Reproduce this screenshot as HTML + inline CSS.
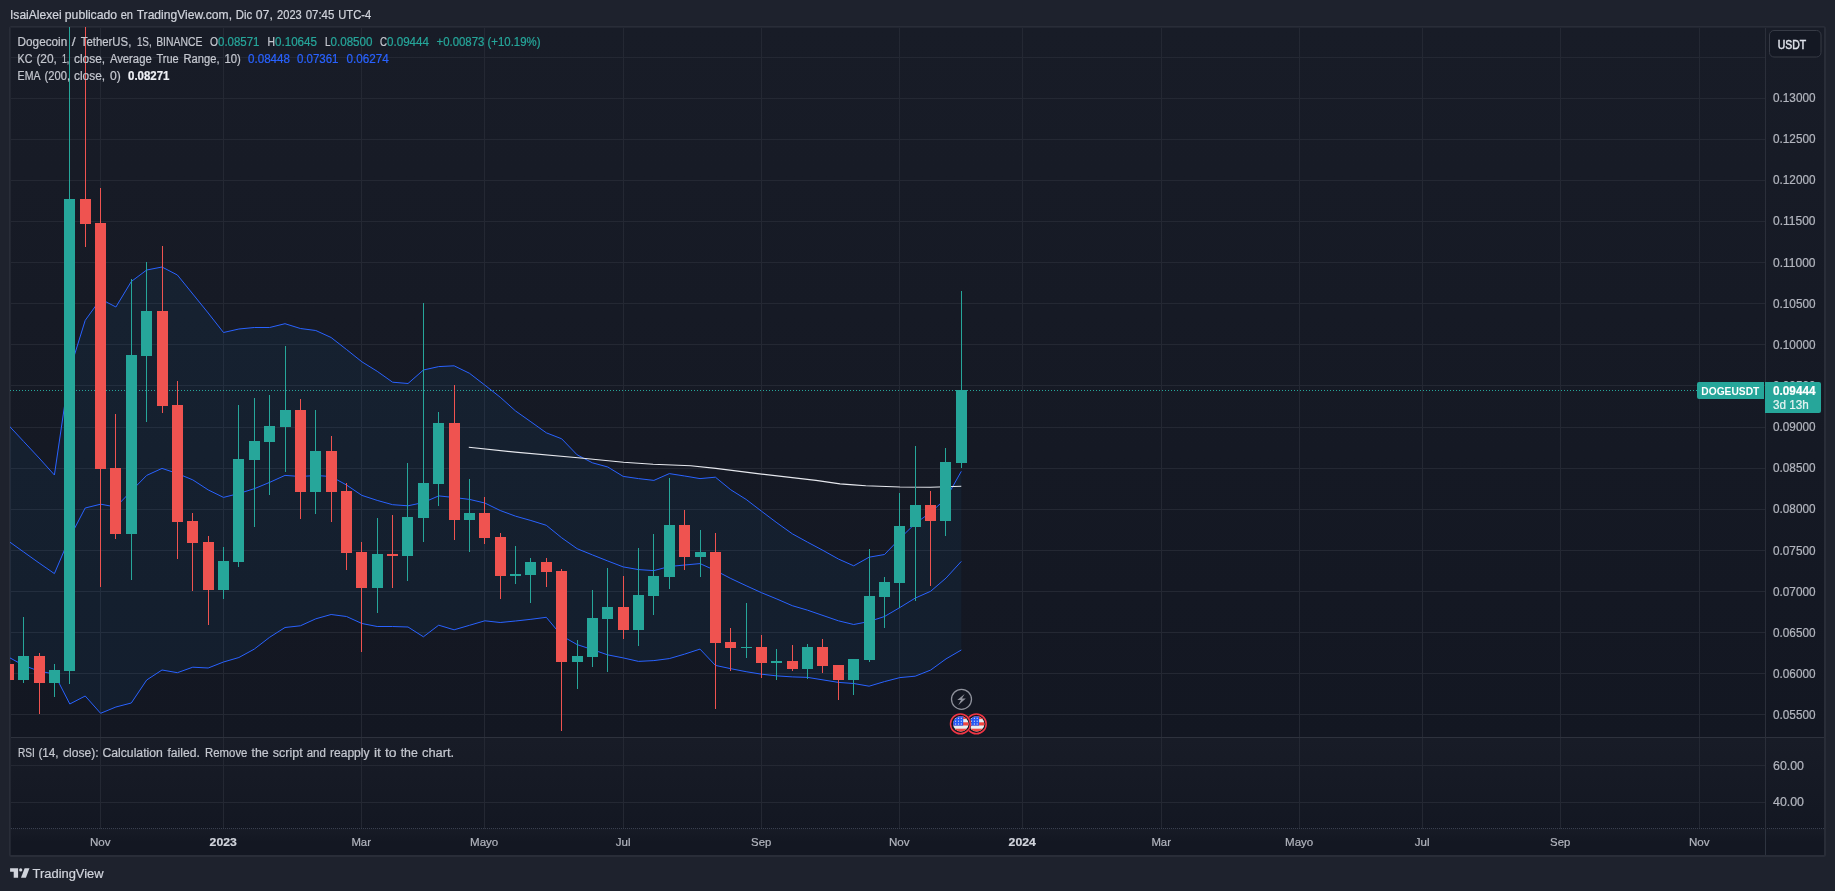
<!DOCTYPE html>
<html><head><meta charset="utf-8"><title>DOGEUSDT</title>
<style>
html,body{margin:0;padding:0;background:#1e222d;}
body{width:1835px;height:891px;overflow:hidden;font-family:"Liberation Sans",sans-serif;}
svg{display:block;will-change:transform}
text{font-family:"Liberation Sans",sans-serif;}
</style></head><body>
<svg width="1835" height="891" viewBox="0 0 1835 891">
<defs>
<linearGradient id="bg" x1="0" y1="0" x2="0" y2="1"><stop offset="0" stop-color="#181c27"/><stop offset="1" stop-color="#131722"/></linearGradient>
<linearGradient id="bg2" x1="0" y1="0" x2="0" y2="1"><stop offset="0" stop-color="#171b26"/><stop offset="0.5" stop-color="#131722"/><stop offset="1" stop-color="#131722"/></linearGradient>
<clipPath id="pane"><rect x="10" y="27" width="1756" height="711"/></clipPath>
<clipPath id="f1"><circle cx="0" cy="0" r="7.7"/></clipPath>
</defs>
<rect x="0" y="0" width="1835" height="891" fill="#1e222d"/>
<rect x="9" y="26" width="1817" height="831" rx="2.5" fill="#292d38"/>
<rect x="10" y="27" width="1814" height="828" fill="#222631"/>
<rect x="11" y="28" width="1813" height="710" fill="url(#bg)"/>
<rect x="11" y="738" width="1813" height="91" fill="url(#bg)"/>
<rect x="11" y="829" width="1813" height="26" fill="url(#bg2)"/>

<g shape-rendering="crispEdges" stroke="#242833" stroke-width="1">
<line x1="100.5" y1="28" x2="100.5" y2="829"/>
<line x1="223.5" y1="28" x2="223.5" y2="829"/>
<line x1="361.5" y1="28" x2="361.5" y2="829"/>
<line x1="484.5" y1="28" x2="484.5" y2="829"/>
<line x1="623.5" y1="28" x2="623.5" y2="829"/>
<line x1="761.5" y1="28" x2="761.5" y2="829"/>
<line x1="899.5" y1="28" x2="899.5" y2="829"/>
<line x1="1022.5" y1="28" x2="1022.5" y2="829"/>
<line x1="1161.5" y1="28" x2="1161.5" y2="829"/>
<line x1="1299.5" y1="28" x2="1299.5" y2="829"/>
<line x1="1422.5" y1="28" x2="1422.5" y2="829"/>
<line x1="1560.5" y1="28" x2="1560.5" y2="829"/>
<line x1="1699.5" y1="28" x2="1699.5" y2="829"/>
<line x1="11" y1="57.5" x2="1766" y2="57.5"/>
<line x1="11" y1="98.5" x2="1766" y2="98.5"/>
<line x1="11" y1="139.5" x2="1766" y2="139.5"/>
<line x1="11" y1="180.5" x2="1766" y2="180.5"/>
<line x1="11" y1="221.5" x2="1766" y2="221.5"/>
<line x1="11" y1="262.5" x2="1766" y2="262.5"/>
<line x1="11" y1="303.5" x2="1766" y2="303.5"/>
<line x1="11" y1="344.5" x2="1766" y2="344.5"/>
<line x1="11" y1="385.5" x2="1766" y2="385.5"/>
<line x1="11" y1="427.5" x2="1766" y2="427.5"/>
<line x1="11" y1="468.5" x2="1766" y2="468.5"/>
<line x1="11" y1="509.5" x2="1766" y2="509.5"/>
<line x1="11" y1="550.5" x2="1766" y2="550.5"/>
<line x1="11" y1="591.5" x2="1766" y2="591.5"/>
<line x1="11" y1="632.5" x2="1766" y2="632.5"/>
<line x1="11" y1="673.5" x2="1766" y2="673.5"/>
<line x1="11" y1="714.5" x2="1766" y2="714.5"/>
<line x1="11" y1="765.5" x2="1766" y2="765.5"/>
<line x1="11" y1="802.5" x2="1766" y2="802.5"/>
</g>
<g clip-path="url(#pane)">
<polygon fill="#2196f3" fill-opacity="0.06" points="8.3,425.0 23.7,441.5 39.1,458.0 54.4,475.0 69.8,370.0 85.2,320.4 100.6,299.0 115.9,307.0 131.3,281.5 146.7,270.0 162.0,267.0 177.4,275.0 192.8,294.0 208.2,313.0 223.5,332.5 238.9,329.0 254.3,327.5 269.6,327.5 285.0,323.7 300.4,328.5 315.8,330.5 331.1,337.5 346.5,349.5 361.9,361.8 377.2,371.3 392.6,382.2 408.0,383.5 423.4,370.0 438.7,366.6 454.1,365.8 469.5,373.3 484.8,385.1 500.2,397.2 515.6,411.0 530.9,421.8 546.3,432.8 561.7,438.8 577.1,454.8 592.4,462.8 607.8,467.0 623.2,476.4 638.5,478.6 653.9,480.4 669.3,473.6 684.7,476.0 700.0,478.6 715.4,477.2 730.8,489.8 746.1,499.4 761.5,511.2 776.9,522.8 792.3,533.8 807.6,542.2 823.0,550.4 838.4,559.0 853.7,565.8 869.1,557.2 884.5,554.5 899.9,538.5 915.2,523.5 930.6,512.5 946.0,498.5 961.3,471.3 961.3,650.0 946.0,658.9 930.6,670.1 915.2,676.2 899.9,677.6 884.5,681.6 869.1,686.2 853.7,683.5 838.4,682.4 823.0,679.9 807.6,677.4 792.3,676.9 776.9,675.9 761.5,674.2 746.1,671.7 730.8,668.7 715.4,665.4 700.0,649.1 684.7,654.1 669.3,658.6 653.9,660.6 638.5,661.4 623.2,657.9 607.8,654.9 592.4,649.6 577.1,644.6 561.7,635.8 546.3,617.3 530.9,619.3 515.6,621.0 500.2,622.5 484.8,620.8 469.5,625.3 454.1,629.8 438.7,625.2 423.4,636.8 408.0,627.0 392.6,626.5 377.2,626.5 361.9,623.5 346.5,616.5 331.1,614.5 315.8,618.8 300.4,625.8 285.0,627.5 269.6,637.3 254.3,649.1 238.9,657.5 223.5,662.0 208.2,668.0 192.8,667.2 177.4,672.7 162.0,670.0 146.7,680.0 131.3,703.0 115.9,707.0 100.6,713.3 85.2,696.0 69.8,704.0 54.4,674.0 39.1,671.2 23.7,665.4 8.3,657.0"/>
<polyline fill="none" stroke="#2962ff" stroke-width="1" stroke-linejoin="round" points="8.3,425.0 23.7,441.5 39.1,458.0 54.4,475.0 69.8,370.0 85.2,320.4 100.6,299.0 115.9,307.0 131.3,281.5 146.7,270.0 162.0,267.0 177.4,275.0 192.8,294.0 208.2,313.0 223.5,332.5 238.9,329.0 254.3,327.5 269.6,327.5 285.0,323.7 300.4,328.5 315.8,330.5 331.1,337.5 346.5,349.5 361.9,361.8 377.2,371.3 392.6,382.2 408.0,383.5 423.4,370.0 438.7,366.6 454.1,365.8 469.5,373.3 484.8,385.1 500.2,397.2 515.6,411.0 530.9,421.8 546.3,432.8 561.7,438.8 577.1,454.8 592.4,462.8 607.8,467.0 623.2,476.4 638.5,478.6 653.9,480.4 669.3,473.6 684.7,476.0 700.0,478.6 715.4,477.2 730.8,489.8 746.1,499.4 761.5,511.2 776.9,522.8 792.3,533.8 807.6,542.2 823.0,550.4 838.4,559.0 853.7,565.8 869.1,557.2 884.5,554.5 899.9,538.5 915.2,523.5 930.6,512.5 946.0,498.5 961.3,471.3"/>
<polyline fill="none" stroke="#2962ff" stroke-width="1" stroke-linejoin="round" points="8.3,541.0 23.7,552.0 39.1,563.0 54.4,573.6 69.8,537.5 85.2,508.0 100.6,504.2 115.9,507.0 131.3,491.0 146.7,475.4 162.0,468.4 177.4,473.5 192.8,479.9 208.2,489.9 223.5,497.4 238.9,493.5 254.3,488.7 269.6,482.4 285.0,475.4 300.4,476.5 315.8,475.5 331.1,476.5 346.5,485.0 361.9,495.4 377.2,500.4 392.6,504.7 408.0,505.8 423.4,502.5 438.7,495.9 454.1,497.5 469.5,499.4 484.8,503.0 500.2,510.5 515.6,516.2 530.9,520.5 546.3,525.3 561.7,537.8 577.1,548.7 592.4,554.9 607.8,561.0 623.2,566.9 638.5,569.6 653.9,570.6 669.3,566.5 684.7,565.0 700.0,563.6 715.4,570.5 730.8,578.5 746.1,585.7 761.5,592.7 776.9,599.0 792.3,605.7 807.6,610.2 823.0,615.5 838.4,620.8 853.7,624.5 869.1,621.5 884.5,616.5 899.9,607.5 915.2,598.1 930.6,591.3 946.0,578.1 961.3,561.4"/>
<polyline fill="none" stroke="#2962ff" stroke-width="1" stroke-linejoin="round" points="8.3,657.0 23.7,665.4 39.1,671.2 54.4,674.0 69.8,704.0 85.2,696.0 100.6,713.3 115.9,707.0 131.3,703.0 146.7,680.0 162.0,670.0 177.4,672.7 192.8,667.2 208.2,668.0 223.5,662.0 238.9,657.5 254.3,649.1 269.6,637.3 285.0,627.5 300.4,625.8 315.8,618.8 331.1,614.5 346.5,616.5 361.9,623.5 377.2,626.5 392.6,626.5 408.0,627.0 423.4,636.8 438.7,625.2 454.1,629.8 469.5,625.3 484.8,620.8 500.2,622.5 515.6,621.0 530.9,619.3 546.3,617.3 561.7,635.8 577.1,644.6 592.4,649.6 607.8,654.9 623.2,657.9 638.5,661.4 653.9,660.6 669.3,658.6 684.7,654.1 700.0,649.1 715.4,665.4 730.8,668.7 746.1,671.7 761.5,674.2 776.9,675.9 792.3,676.9 807.6,677.4 823.0,679.9 838.4,682.4 853.7,683.5 869.1,686.2 884.5,681.6 899.9,677.6 915.2,676.2 930.6,670.1 946.0,658.9 961.3,650.0"/>
<polyline fill="none" stroke="#e6e8ee" stroke-width="1.15" stroke-linejoin="round" points="468.8,447.3 515.2,452.1 577.9,457.8 623.5,462.3 653.1,464.3 690.7,465.8 715.8,468.4 761.6,474.1 816.0,480.4 840.0,483.9 853.6,484.9 865.8,485.7 899.9,487.0 930.3,487.3 961.3,486.2"/>
<line x1="10" y1="390.5" x2="1766" y2="390.5" stroke="#26a69a" stroke-width="1" stroke-dasharray="1 2" shape-rendering="crispEdges"/>
<g shape-rendering="crispEdges">
<rect x="8" y="660" width="1" height="30" fill="#ef5350"/>
<rect x="3" y="664" width="11" height="16" fill="#ef5350"/>
<rect x="23" y="617" width="1" height="66" fill="#26a69a"/>
<rect x="18" y="656" width="11" height="24" fill="#26a69a"/>
<rect x="39" y="653" width="1" height="61" fill="#ef5350"/>
<rect x="34" y="656" width="11" height="27" fill="#ef5350"/>
<rect x="54" y="664" width="1" height="33" fill="#26a69a"/>
<rect x="49" y="670" width="11" height="13" fill="#26a69a"/>
<rect x="69" y="20" width="1" height="664" fill="#26a69a"/>
<rect x="64" y="199" width="11" height="472" fill="#26a69a"/>
<rect x="85" y="20" width="1" height="227" fill="#ef5350"/>
<rect x="80" y="199" width="11" height="25" fill="#ef5350"/>
<rect x="100" y="188" width="1" height="399" fill="#ef5350"/>
<rect x="95" y="223" width="11" height="246" fill="#ef5350"/>
<rect x="115" y="414" width="1" height="125" fill="#ef5350"/>
<rect x="110" y="468" width="11" height="66" fill="#ef5350"/>
<rect x="131" y="279" width="1" height="301" fill="#26a69a"/>
<rect x="126" y="355" width="11" height="179" fill="#26a69a"/>
<rect x="146" y="262" width="1" height="160" fill="#26a69a"/>
<rect x="141" y="311" width="11" height="45" fill="#26a69a"/>
<rect x="162" y="246" width="1" height="167" fill="#ef5350"/>
<rect x="157" y="311" width="11" height="95" fill="#ef5350"/>
<rect x="177" y="381" width="1" height="178" fill="#ef5350"/>
<rect x="172" y="405" width="11" height="117" fill="#ef5350"/>
<rect x="192" y="513" width="1" height="78" fill="#ef5350"/>
<rect x="187" y="521" width="11" height="22" fill="#ef5350"/>
<rect x="208" y="536" width="1" height="89" fill="#ef5350"/>
<rect x="203" y="542" width="11" height="48" fill="#ef5350"/>
<rect x="223" y="547" width="1" height="52" fill="#26a69a"/>
<rect x="218" y="561" width="11" height="29" fill="#26a69a"/>
<rect x="238" y="405" width="1" height="162" fill="#26a69a"/>
<rect x="233" y="459" width="11" height="103" fill="#26a69a"/>
<rect x="254" y="398" width="1" height="129" fill="#26a69a"/>
<rect x="249" y="441" width="11" height="19" fill="#26a69a"/>
<rect x="269" y="395" width="1" height="100" fill="#26a69a"/>
<rect x="264" y="426" width="11" height="16" fill="#26a69a"/>
<rect x="285" y="346" width="1" height="126" fill="#26a69a"/>
<rect x="280" y="410" width="11" height="17" fill="#26a69a"/>
<rect x="300" y="399" width="1" height="120" fill="#ef5350"/>
<rect x="295" y="410" width="11" height="82" fill="#ef5350"/>
<rect x="315" y="410" width="1" height="104" fill="#26a69a"/>
<rect x="310" y="451" width="11" height="41" fill="#26a69a"/>
<rect x="331" y="436" width="1" height="86" fill="#ef5350"/>
<rect x="326" y="451" width="11" height="41" fill="#ef5350"/>
<rect x="346" y="483" width="1" height="87" fill="#ef5350"/>
<rect x="341" y="491" width="11" height="62" fill="#ef5350"/>
<rect x="361" y="542" width="1" height="110" fill="#ef5350"/>
<rect x="356" y="552" width="11" height="36" fill="#ef5350"/>
<rect x="377" y="518" width="1" height="95" fill="#26a69a"/>
<rect x="372" y="554" width="11" height="34" fill="#26a69a"/>
<rect x="392" y="515" width="1" height="73" fill="#ef5350"/>
<rect x="387" y="554" width="11" height="2" fill="#ef5350"/>
<rect x="407" y="463" width="1" height="118" fill="#26a69a"/>
<rect x="402" y="517" width="11" height="39" fill="#26a69a"/>
<rect x="423" y="303" width="1" height="239" fill="#26a69a"/>
<rect x="418" y="483" width="11" height="35" fill="#26a69a"/>
<rect x="438" y="412" width="1" height="94" fill="#26a69a"/>
<rect x="433" y="423" width="11" height="61" fill="#26a69a"/>
<rect x="454" y="385" width="1" height="155" fill="#ef5350"/>
<rect x="449" y="423" width="11" height="97" fill="#ef5350"/>
<rect x="469" y="479" width="1" height="73" fill="#26a69a"/>
<rect x="464" y="513" width="11" height="7" fill="#26a69a"/>
<rect x="484" y="497" width="1" height="47" fill="#ef5350"/>
<rect x="479" y="513" width="11" height="25" fill="#ef5350"/>
<rect x="500" y="533" width="1" height="66" fill="#ef5350"/>
<rect x="495" y="537" width="11" height="39" fill="#ef5350"/>
<rect x="515" y="546" width="1" height="38" fill="#26a69a"/>
<rect x="510" y="574" width="11" height="2" fill="#26a69a"/>
<rect x="530" y="558" width="1" height="45" fill="#26a69a"/>
<rect x="525" y="562" width="11" height="13" fill="#26a69a"/>
<rect x="546" y="558" width="1" height="29" fill="#ef5350"/>
<rect x="541" y="562" width="11" height="10" fill="#ef5350"/>
<rect x="561" y="569" width="1" height="162" fill="#ef5350"/>
<rect x="556" y="571" width="11" height="91" fill="#ef5350"/>
<rect x="577" y="640" width="1" height="49" fill="#26a69a"/>
<rect x="572" y="656" width="11" height="6" fill="#26a69a"/>
<rect x="592" y="590" width="1" height="77" fill="#26a69a"/>
<rect x="587" y="618" width="11" height="39" fill="#26a69a"/>
<rect x="607" y="568" width="1" height="104" fill="#26a69a"/>
<rect x="602" y="607" width="11" height="12" fill="#26a69a"/>
<rect x="623" y="576" width="1" height="63" fill="#ef5350"/>
<rect x="618" y="607" width="11" height="23" fill="#ef5350"/>
<rect x="638" y="548" width="1" height="98" fill="#26a69a"/>
<rect x="633" y="595" width="11" height="35" fill="#26a69a"/>
<rect x="653" y="534" width="1" height="81" fill="#26a69a"/>
<rect x="648" y="576" width="11" height="20" fill="#26a69a"/>
<rect x="669" y="478" width="1" height="111" fill="#26a69a"/>
<rect x="664" y="525" width="11" height="52" fill="#26a69a"/>
<rect x="684" y="510" width="1" height="60" fill="#ef5350"/>
<rect x="679" y="525" width="11" height="32" fill="#ef5350"/>
<rect x="700" y="530" width="1" height="47" fill="#26a69a"/>
<rect x="695" y="552" width="11" height="5" fill="#26a69a"/>
<rect x="715" y="533" width="1" height="176" fill="#ef5350"/>
<rect x="710" y="552" width="11" height="91" fill="#ef5350"/>
<rect x="730" y="628" width="1" height="43" fill="#ef5350"/>
<rect x="725" y="642" width="11" height="6" fill="#ef5350"/>
<rect x="746" y="603" width="1" height="55" fill="#26a69a"/>
<rect x="741" y="647" width="11" height="1" fill="#26a69a"/>
<rect x="761" y="635" width="1" height="43" fill="#ef5350"/>
<rect x="756" y="647" width="11" height="16" fill="#ef5350"/>
<rect x="776" y="649" width="1" height="31" fill="#26a69a"/>
<rect x="771" y="661" width="11" height="2" fill="#26a69a"/>
<rect x="792" y="645" width="1" height="26" fill="#ef5350"/>
<rect x="787" y="661" width="11" height="8" fill="#ef5350"/>
<rect x="807" y="644" width="1" height="35" fill="#26a69a"/>
<rect x="802" y="647" width="11" height="22" fill="#26a69a"/>
<rect x="822" y="639" width="1" height="34" fill="#ef5350"/>
<rect x="817" y="647" width="11" height="19" fill="#ef5350"/>
<rect x="838" y="665" width="1" height="35" fill="#ef5350"/>
<rect x="833" y="665" width="11" height="15" fill="#ef5350"/>
<rect x="853" y="659" width="1" height="36" fill="#26a69a"/>
<rect x="848" y="659" width="11" height="21" fill="#26a69a"/>
<rect x="869" y="549" width="1" height="113" fill="#26a69a"/>
<rect x="864" y="596" width="11" height="64" fill="#26a69a"/>
<rect x="884" y="577" width="1" height="51" fill="#26a69a"/>
<rect x="879" y="582" width="11" height="15" fill="#26a69a"/>
<rect x="899" y="493" width="1" height="115" fill="#26a69a"/>
<rect x="894" y="526" width="11" height="57" fill="#26a69a"/>
<rect x="915" y="446" width="1" height="155" fill="#26a69a"/>
<rect x="910" y="505" width="11" height="22" fill="#26a69a"/>
<rect x="930" y="491" width="1" height="95" fill="#ef5350"/>
<rect x="925" y="505" width="11" height="16" fill="#ef5350"/>
<rect x="945" y="448" width="1" height="88" fill="#26a69a"/>
<rect x="940" y="462" width="11" height="59" fill="#26a69a"/>
<rect x="961" y="291" width="1" height="177" fill="#26a69a"/>
<rect x="956" y="390" width="11" height="73" fill="#26a69a"/>
</g>
</g>
<g shape-rendering="crispEdges" stroke="#2e323d" stroke-width="1">
<line x1="11" y1="737.5" x2="1824" y2="737.5"/>
<line x1="11" y1="828.5" x2="1824" y2="828.5" stroke="#3a4050" stroke-dasharray="1 1"/>
<line x1="1765.5" y1="28" x2="1765.5" y2="829" stroke="#2b2f3a"/>
<line x1="1765.5" y1="829" x2="1765.5" y2="855" stroke="#2e3440"/>
</g>
<text x="10.0" y="19" font-size="13" fill="#d1d4dc" stroke="#d1d4dc" stroke-width="0.22" font-weight="normal" text-anchor="start" textLength="51.6" lengthAdjust="spacingAndGlyphs">IsaiAlexei</text>
<text x="64.8" y="19" font-size="13" fill="#d1d4dc" stroke="#d1d4dc" stroke-width="0.22" font-weight="normal" text-anchor="start" textLength="52.3" lengthAdjust="spacingAndGlyphs">publicado</text>
<text x="120.7" y="19" font-size="13" fill="#d1d4dc" stroke="#d1d4dc" stroke-width="0.22" font-weight="normal" text-anchor="start" textLength="12.3" lengthAdjust="spacingAndGlyphs">en</text>
<text x="136.7" y="19" font-size="13" fill="#d1d4dc" stroke="#d1d4dc" stroke-width="0.22" font-weight="normal" text-anchor="start" textLength="95.3" lengthAdjust="spacingAndGlyphs">TradingView.com,</text>
<text x="235.7" y="19" font-size="13" fill="#d1d4dc" stroke="#d1d4dc" stroke-width="0.22" font-weight="normal" text-anchor="start" textLength="16.4" lengthAdjust="spacingAndGlyphs">Dic</text>
<text x="255.8" y="19" font-size="13" fill="#d1d4dc" stroke="#d1d4dc" stroke-width="0.22" font-weight="normal" text-anchor="start" textLength="17.0" lengthAdjust="spacingAndGlyphs">07,</text>
<text x="277.1" y="19" font-size="13" fill="#d1d4dc" stroke="#d1d4dc" stroke-width="0.22" font-weight="normal" text-anchor="start" textLength="24.7" lengthAdjust="spacingAndGlyphs">2023</text>
<text x="305.7" y="19" font-size="13" fill="#d1d4dc" stroke="#d1d4dc" stroke-width="0.22" font-weight="normal" text-anchor="start" textLength="28.6" lengthAdjust="spacingAndGlyphs">07:45</text>
<text x="338.2" y="19" font-size="13" fill="#d1d4dc" stroke="#d1d4dc" stroke-width="0.22" font-weight="normal" text-anchor="start" textLength="33.0" lengthAdjust="spacingAndGlyphs">UTC-4</text>
<text x="17.6" y="46" font-size="12" fill="#c4c7cf" stroke="#c4c7cf" stroke-width="0.22" font-weight="normal" text-anchor="start" textLength="49.6" lengthAdjust="spacingAndGlyphs">Dogecoin</text>
<text x="71.8" y="46" font-size="12" fill="#c4c7cf" stroke="#c4c7cf" stroke-width="0.22" font-weight="normal" text-anchor="start" textLength="3.9" lengthAdjust="spacingAndGlyphs">/</text>
<text x="80.8" y="46" font-size="12" fill="#c4c7cf" stroke="#c4c7cf" stroke-width="0.22" font-weight="normal" text-anchor="start" textLength="50.5" lengthAdjust="spacingAndGlyphs">TetherUS,</text>
<text x="136.9" y="46" font-size="12" fill="#c4c7cf" stroke="#c4c7cf" stroke-width="0.22" font-weight="normal" text-anchor="start" textLength="14.8" lengthAdjust="spacingAndGlyphs">1S,</text>
<text x="156.2" y="46" font-size="12" fill="#c4c7cf" stroke="#c4c7cf" stroke-width="0.22" font-weight="normal" text-anchor="start" textLength="46.2" lengthAdjust="spacingAndGlyphs">BINANCE</text>
<text x="210" y="46" font-size="12" fill="#c4c7cf" stroke="#c4c7cf" stroke-width="0.22" font-weight="normal" text-anchor="start" textLength="8.0" lengthAdjust="spacingAndGlyphs">O</text>
<text x="218" y="46" font-size="12" fill="#26a69a" stroke="#26a69a" stroke-width="0.22" font-weight="normal" text-anchor="start" textLength="41.5" lengthAdjust="spacingAndGlyphs">0.08571</text>
<text x="267.5" y="46" font-size="12" fill="#c4c7cf" stroke="#c4c7cf" stroke-width="0.22" font-weight="normal" text-anchor="start" textLength="7.5" lengthAdjust="spacingAndGlyphs">H</text>
<text x="275" y="46" font-size="12" fill="#26a69a" stroke="#26a69a" stroke-width="0.22" font-weight="normal" text-anchor="start" textLength="42.0" lengthAdjust="spacingAndGlyphs">0.10645</text>
<text x="325" y="46" font-size="12" fill="#c4c7cf" stroke="#c4c7cf" stroke-width="0.22" font-weight="normal" text-anchor="start" textLength="5.5" lengthAdjust="spacingAndGlyphs">L</text>
<text x="330.5" y="46" font-size="12" fill="#26a69a" stroke="#26a69a" stroke-width="0.22" font-weight="normal" text-anchor="start" textLength="42.0" lengthAdjust="spacingAndGlyphs">0.08500</text>
<text x="380" y="46" font-size="12" fill="#c4c7cf" stroke="#c4c7cf" stroke-width="0.22" font-weight="normal" text-anchor="start" textLength="7.0" lengthAdjust="spacingAndGlyphs">C</text>
<text x="387" y="46" font-size="12" fill="#26a69a" stroke="#26a69a" stroke-width="0.22" font-weight="normal" text-anchor="start" textLength="42.0" lengthAdjust="spacingAndGlyphs">0.09444</text>
<text x="436.5" y="46" font-size="12" fill="#26a69a" stroke="#26a69a" stroke-width="0.22" font-weight="normal" text-anchor="start" textLength="104.0" lengthAdjust="spacingAndGlyphs">+0.00873 (+10.19%)</text>
<text x="17.6" y="63" font-size="12" fill="#c4c7cf" stroke="#c4c7cf" stroke-width="0.22" font-weight="normal" text-anchor="start" textLength="14.8" lengthAdjust="spacingAndGlyphs">KC</text>
<text x="36.4" y="63" font-size="12" fill="#c4c7cf" stroke="#c4c7cf" stroke-width="0.22" font-weight="normal" text-anchor="start" textLength="20.5" lengthAdjust="spacingAndGlyphs">(20,</text>
<text x="61.9" y="63" font-size="12" fill="#c4c7cf" stroke="#c4c7cf" stroke-width="0.22" font-weight="normal" text-anchor="start" textLength="7.3" lengthAdjust="spacingAndGlyphs">1,</text>
<text x="74.0" y="63" font-size="12" fill="#c4c7cf" stroke="#c4c7cf" stroke-width="0.22" font-weight="normal" text-anchor="start" textLength="31.1" lengthAdjust="spacingAndGlyphs">close,</text>
<text x="109.9" y="63" font-size="12" fill="#c4c7cf" stroke="#c4c7cf" stroke-width="0.22" font-weight="normal" text-anchor="start" textLength="41.8" lengthAdjust="spacingAndGlyphs">Average</text>
<text x="156.5" y="63" font-size="12" fill="#c4c7cf" stroke="#c4c7cf" stroke-width="0.22" font-weight="normal" text-anchor="start" textLength="22.2" lengthAdjust="spacingAndGlyphs">True</text>
<text x="183.5" y="63" font-size="12" fill="#c4c7cf" stroke="#c4c7cf" stroke-width="0.22" font-weight="normal" text-anchor="start" textLength="36.0" lengthAdjust="spacingAndGlyphs">Range,</text>
<text x="224.4" y="63" font-size="12" fill="#c4c7cf" stroke="#c4c7cf" stroke-width="0.22" font-weight="normal" text-anchor="start" textLength="16.4" lengthAdjust="spacingAndGlyphs">10)</text>
<text x="248" y="63" font-size="12" fill="#2962ff" stroke="#2962ff" stroke-width="0.22" font-weight="normal" text-anchor="start" textLength="42.0" lengthAdjust="spacingAndGlyphs">0.08448</text>
<text x="297" y="63" font-size="12" fill="#2962ff" stroke="#2962ff" stroke-width="0.22" font-weight="normal" text-anchor="start" textLength="41.5" lengthAdjust="spacingAndGlyphs">0.07361</text>
<text x="346.5" y="63" font-size="12" fill="#2962ff" stroke="#2962ff" stroke-width="0.22" font-weight="normal" text-anchor="start" textLength="42.3" lengthAdjust="spacingAndGlyphs">0.06274</text>
<text x="17.6" y="80" font-size="12" fill="#c4c7cf" stroke="#c4c7cf" stroke-width="0.22" font-weight="normal" text-anchor="start" textLength="22.9" lengthAdjust="spacingAndGlyphs">EMA</text>
<text x="44.6" y="80" font-size="12" fill="#c4c7cf" stroke="#c4c7cf" stroke-width="0.22" font-weight="normal" text-anchor="start" textLength="25.4" lengthAdjust="spacingAndGlyphs">(200,</text>
<text x="74.0" y="80" font-size="12" fill="#c4c7cf" stroke="#c4c7cf" stroke-width="0.22" font-weight="normal" text-anchor="start" textLength="31.1" lengthAdjust="spacingAndGlyphs">close,</text>
<text x="109.9" y="80" font-size="12" fill="#c4c7cf" stroke="#c4c7cf" stroke-width="0.22" font-weight="normal" text-anchor="start" textLength="10.8" lengthAdjust="spacingAndGlyphs">0)</text>
<text x="128" y="80" font-size="12" fill="#eef0f5" stroke="#eef0f5" stroke-width="0.22" font-weight="bold" text-anchor="start" textLength="41.5" lengthAdjust="spacingAndGlyphs">0.08271</text>
<text x="17.9" y="756.5" font-size="12" fill="#c4c7cf" stroke="#c4c7cf" stroke-width="0.22" font-weight="normal" text-anchor="start" textLength="16.9" lengthAdjust="spacingAndGlyphs">RSI</text>
<text x="38.4" y="756.5" font-size="12" fill="#c4c7cf" stroke="#c4c7cf" stroke-width="0.22" font-weight="normal" text-anchor="start" textLength="20.2" lengthAdjust="spacingAndGlyphs">(14,</text>
<text x="63.0" y="756.5" font-size="12" fill="#c4c7cf" stroke="#c4c7cf" stroke-width="0.22" font-weight="normal" text-anchor="start" textLength="35.7" lengthAdjust="spacingAndGlyphs">close):</text>
<text x="102.4" y="756.5" font-size="12" fill="#c4c7cf" stroke="#c4c7cf" stroke-width="0.22" font-weight="normal" text-anchor="start" textLength="60.5" lengthAdjust="spacingAndGlyphs">Calculation</text>
<text x="167.5" y="756.5" font-size="12" fill="#c4c7cf" stroke="#c4c7cf" stroke-width="0.22" font-weight="normal" text-anchor="start" textLength="32.3" lengthAdjust="spacingAndGlyphs">failed.</text>
<text x="205.1" y="756.5" font-size="12" fill="#c4c7cf" stroke="#c4c7cf" stroke-width="0.22" font-weight="normal" text-anchor="start" textLength="42.3" lengthAdjust="spacingAndGlyphs">Remove</text>
<text x="251.5" y="756.5" font-size="12" fill="#c4c7cf" stroke="#c4c7cf" stroke-width="0.22" font-weight="normal" text-anchor="start" textLength="17.2" lengthAdjust="spacingAndGlyphs">the</text>
<text x="272.8" y="756.5" font-size="12" fill="#c4c7cf" stroke="#c4c7cf" stroke-width="0.22" font-weight="normal" text-anchor="start" textLength="29.8" lengthAdjust="spacingAndGlyphs">script</text>
<text x="306.7" y="756.5" font-size="12" fill="#c4c7cf" stroke="#c4c7cf" stroke-width="0.22" font-weight="normal" text-anchor="start" textLength="19.2" lengthAdjust="spacingAndGlyphs">and</text>
<text x="330.0" y="756.5" font-size="12" fill="#c4c7cf" stroke="#c4c7cf" stroke-width="0.22" font-weight="normal" text-anchor="start" textLength="39.5" lengthAdjust="spacingAndGlyphs">reapply</text>
<text x="373.9" y="756.5" font-size="12" fill="#c4c7cf" stroke="#c4c7cf" stroke-width="0.22" font-weight="normal" text-anchor="start" textLength="6.9" lengthAdjust="spacingAndGlyphs">it</text>
<text x="384.9" y="756.5" font-size="12" fill="#c4c7cf" stroke="#c4c7cf" stroke-width="0.22" font-weight="normal" text-anchor="start" textLength="11.7" lengthAdjust="spacingAndGlyphs">to</text>
<text x="400.7" y="756.5" font-size="12" fill="#c4c7cf" stroke="#c4c7cf" stroke-width="0.22" font-weight="normal" text-anchor="start" textLength="17.2" lengthAdjust="spacingAndGlyphs">the</text>
<text x="422.0" y="756.5" font-size="12" fill="#c4c7cf" stroke="#c4c7cf" stroke-width="0.22" font-weight="normal" text-anchor="start" textLength="32.2" lengthAdjust="spacingAndGlyphs">chart.</text>
<text x="1773" y="102.0" font-size="12" fill="#b2b5be" stroke="#b2b5be" stroke-width="0.22" font-weight="normal" text-anchor="start" textLength="42.5" lengthAdjust="spacingAndGlyphs">0.13000</text>
<text x="1773" y="143.1" font-size="12" fill="#b2b5be" stroke="#b2b5be" stroke-width="0.22" font-weight="normal" text-anchor="start" textLength="42.5" lengthAdjust="spacingAndGlyphs">0.12500</text>
<text x="1773" y="184.2" font-size="12" fill="#b2b5be" stroke="#b2b5be" stroke-width="0.22" font-weight="normal" text-anchor="start" textLength="42.5" lengthAdjust="spacingAndGlyphs">0.12000</text>
<text x="1773" y="225.4" font-size="12" fill="#b2b5be" stroke="#b2b5be" stroke-width="0.22" font-weight="normal" text-anchor="start" textLength="42.5" lengthAdjust="spacingAndGlyphs">0.11500</text>
<text x="1773" y="266.5" font-size="12" fill="#b2b5be" stroke="#b2b5be" stroke-width="0.22" font-weight="normal" text-anchor="start" textLength="42.5" lengthAdjust="spacingAndGlyphs">0.11000</text>
<text x="1773" y="307.6" font-size="12" fill="#b2b5be" stroke="#b2b5be" stroke-width="0.22" font-weight="normal" text-anchor="start" textLength="42.5" lengthAdjust="spacingAndGlyphs">0.10500</text>
<text x="1773" y="348.8" font-size="12" fill="#b2b5be" stroke="#b2b5be" stroke-width="0.22" font-weight="normal" text-anchor="start" textLength="42.5" lengthAdjust="spacingAndGlyphs">0.10000</text>
<text x="1773" y="389.9" font-size="12" fill="#b2b5be" stroke="#b2b5be" stroke-width="0.22" font-weight="normal" text-anchor="start" textLength="42.5" lengthAdjust="spacingAndGlyphs">0.09500</text>
<text x="1773" y="431.1" font-size="12" fill="#b2b5be" stroke="#b2b5be" stroke-width="0.22" font-weight="normal" text-anchor="start" textLength="42.5" lengthAdjust="spacingAndGlyphs">0.09000</text>
<text x="1773" y="472.2" font-size="12" fill="#b2b5be" stroke="#b2b5be" stroke-width="0.22" font-weight="normal" text-anchor="start" textLength="42.5" lengthAdjust="spacingAndGlyphs">0.08500</text>
<text x="1773" y="513.4" font-size="12" fill="#b2b5be" stroke="#b2b5be" stroke-width="0.22" font-weight="normal" text-anchor="start" textLength="42.5" lengthAdjust="spacingAndGlyphs">0.08000</text>
<text x="1773" y="554.5" font-size="12" fill="#b2b5be" stroke="#b2b5be" stroke-width="0.22" font-weight="normal" text-anchor="start" textLength="42.5" lengthAdjust="spacingAndGlyphs">0.07500</text>
<text x="1773" y="595.6" font-size="12" fill="#b2b5be" stroke="#b2b5be" stroke-width="0.22" font-weight="normal" text-anchor="start" textLength="42.5" lengthAdjust="spacingAndGlyphs">0.07000</text>
<text x="1773" y="636.8" font-size="12" fill="#b2b5be" stroke="#b2b5be" stroke-width="0.22" font-weight="normal" text-anchor="start" textLength="42.5" lengthAdjust="spacingAndGlyphs">0.06500</text>
<text x="1773" y="677.9" font-size="12" fill="#b2b5be" stroke="#b2b5be" stroke-width="0.22" font-weight="normal" text-anchor="start" textLength="42.5" lengthAdjust="spacingAndGlyphs">0.06000</text>
<text x="1773" y="719.1" font-size="12" fill="#b2b5be" stroke="#b2b5be" stroke-width="0.22" font-weight="normal" text-anchor="start" textLength="42.5" lengthAdjust="spacingAndGlyphs">0.05500</text>
<text x="1773" y="770" font-size="12" fill="#b2b5be" stroke="#b2b5be" stroke-width="0.22" font-weight="normal" text-anchor="start" textLength="31.0" lengthAdjust="spacingAndGlyphs">60.00</text>
<text x="1773" y="806" font-size="12" fill="#b2b5be" stroke="#b2b5be" stroke-width="0.22" font-weight="normal" text-anchor="start" textLength="31.0" lengthAdjust="spacingAndGlyphs">40.00</text>
<rect x="1769.5" y="30.5" width="51.5" height="26.5" rx="4.5" fill="#141823" stroke="#363a45" stroke-width="1"/>
<text x="1777.8" y="49" font-size="12" fill="#e0e3eb" stroke="#e0e3eb" stroke-width="0.45" font-weight="normal" text-anchor="start" textLength="28.4" lengthAdjust="spacingAndGlyphs">USDT</text>
<path d="M1699 382 H1764 V399 H1699 Q1697 399 1697 397 V384 Q1697 382 1699 382 Z" fill="#26a69a"/>
<text x="1701.3" y="394.8" font-size="11.6" fill="#ffffff" font-weight="bold" text-anchor="start" textLength="58.0" lengthAdjust="spacingAndGlyphs">DOGEUSDT</text>
<path d="M1765 382 H1819 Q1821 382 1821 384 V411 Q1821 413 1819 413 H1765 Z" fill="#26a69a"/>
<text x="1773" y="395" font-size="12" fill="#ffffff" stroke="#ffffff" stroke-width="0.22" font-weight="bold" text-anchor="start" textLength="42.5" lengthAdjust="spacingAndGlyphs">0.09444</text>
<text x="1773" y="409.3" font-size="12" fill="#e4f4f2" stroke="#e4f4f2" stroke-width="0.22" font-weight="normal" text-anchor="start" textLength="35.8" lengthAdjust="spacingAndGlyphs">3d 13h</text>
<text x="89.9" y="845.7" font-size="11.8" fill="#b2b5be" stroke="#b2b5be" stroke-width="0.22" font-weight="normal" text-anchor="start" textLength="20.6" lengthAdjust="spacingAndGlyphs">Nov</text>
<text x="209.6" y="845.7" font-size="11.8" fill="#d1d4dc" stroke="#d1d4dc" stroke-width="0.22" font-weight="bold" text-anchor="start" textLength="27.2" lengthAdjust="spacingAndGlyphs">2023</text>
<text x="351.4" y="845.7" font-size="11.8" fill="#b2b5be" stroke="#b2b5be" stroke-width="0.22" font-weight="normal" text-anchor="start" textLength="19.6" lengthAdjust="spacingAndGlyphs">Mar</text>
<text x="470.1" y="845.7" font-size="11.8" fill="#b2b5be" stroke="#b2b5be" stroke-width="0.22" font-weight="normal" text-anchor="start" textLength="28.2" lengthAdjust="spacingAndGlyphs">Mayo</text>
<text x="615.8" y="845.7" font-size="11.8" fill="#b2b5be" stroke="#b2b5be" stroke-width="0.22" font-weight="normal" text-anchor="start" textLength="14.8" lengthAdjust="spacingAndGlyphs">Jul</text>
<text x="751.1" y="845.7" font-size="11.8" fill="#b2b5be" stroke="#b2b5be" stroke-width="0.22" font-weight="normal" text-anchor="start" textLength="20.2" lengthAdjust="spacingAndGlyphs">Sep</text>
<text x="888.9" y="845.7" font-size="11.8" fill="#b2b5be" stroke="#b2b5be" stroke-width="0.22" font-weight="normal" text-anchor="start" textLength="20.6" lengthAdjust="spacingAndGlyphs">Nov</text>
<text x="1008.6" y="845.7" font-size="11.8" fill="#d1d4dc" stroke="#d1d4dc" stroke-width="0.22" font-weight="bold" text-anchor="start" textLength="27.2" lengthAdjust="spacingAndGlyphs">2024</text>
<text x="1151.4" y="845.7" font-size="11.8" fill="#b2b5be" stroke="#b2b5be" stroke-width="0.22" font-weight="normal" text-anchor="start" textLength="19.6" lengthAdjust="spacingAndGlyphs">Mar</text>
<text x="1285.1" y="845.7" font-size="11.8" fill="#b2b5be" stroke="#b2b5be" stroke-width="0.22" font-weight="normal" text-anchor="start" textLength="28.2" lengthAdjust="spacingAndGlyphs">Mayo</text>
<text x="1414.8" y="845.7" font-size="11.8" fill="#b2b5be" stroke="#b2b5be" stroke-width="0.22" font-weight="normal" text-anchor="start" textLength="14.8" lengthAdjust="spacingAndGlyphs">Jul</text>
<text x="1550.1" y="845.7" font-size="11.8" fill="#b2b5be" stroke="#b2b5be" stroke-width="0.22" font-weight="normal" text-anchor="start" textLength="20.2" lengthAdjust="spacingAndGlyphs">Sep</text>
<text x="1688.9" y="845.7" font-size="11.8" fill="#b2b5be" stroke="#b2b5be" stroke-width="0.22" font-weight="normal" text-anchor="start" textLength="20.6" lengthAdjust="spacingAndGlyphs">Nov</text>
<g>
<circle cx="961.5" cy="699.3" r="10" fill="#131722" stroke="#8f929c" stroke-width="1.3"/>
<path d="M964.6 694 L957.3 700 L961 700 L958.2 705.3 L965.8 698.6 L962 698.6 Z" fill="#8f929c"/>
</g>
<g transform="translate(976.3 723.9)">
<circle r="10.9" fill="#131722"/>
<circle r="9.9" fill="#131722" stroke="#f23645" stroke-width="1.5"/>
<g clip-path="url(#f1)" transform="translate(0.4 0)">
<rect x="-8.2" y="-8.2" width="16.4" height="16.4" fill="#e4eef0"/>
<rect x="-8.2" y="-8.2" width="16.4" height="3.4" fill="#f0453f"/>
<rect x="-8.2" y="-1.6" width="16.4" height="3.2" fill="#f0453f"/>
<rect x="-8.2" y="4.8" width="16.4" height="3.6" fill="#f0453f"/>
<rect x="-8.2" y="-8.2" width="10.6" height="9.9" fill="#2457f5"/>
<rect x="-5.75" y="-6.15" width="1.1" height="1.1" fill="#dfe6f2"/>
<rect x="-2.85" y="-6.15" width="1.1" height="1.1" fill="#dfe6f2"/>
<rect x="-0.05" y="-6.15" width="1.1" height="1.1" fill="#dfe6f2"/>
<rect x="-5.75" y="-3.25" width="1.1" height="1.1" fill="#dfe6f2"/>
<rect x="-2.85" y="-3.25" width="1.1" height="1.1" fill="#dfe6f2"/>
<rect x="-0.05" y="-3.25" width="1.1" height="1.1" fill="#dfe6f2"/>
<rect x="-5.75" y="-0.45" width="1.1" height="1.1" fill="#dfe6f2"/>
<rect x="-2.85" y="-0.45" width="1.1" height="1.1" fill="#dfe6f2"/>
<rect x="-0.05" y="-0.45" width="1.1" height="1.1" fill="#dfe6f2"/>
</g></g>
<g transform="translate(960.4 723.9)">
<circle r="10.9" fill="#131722"/>
<circle r="9.9" fill="#131722" stroke="#f23645" stroke-width="1.5"/>
<g clip-path="url(#f1)" transform="translate(0.4 0)">
<rect x="-8.2" y="-8.2" width="16.4" height="16.4" fill="#e4eef0"/>
<rect x="-8.2" y="-8.2" width="16.4" height="3.4" fill="#f0453f"/>
<rect x="-8.2" y="-1.6" width="16.4" height="3.2" fill="#f0453f"/>
<rect x="-8.2" y="4.8" width="16.4" height="3.6" fill="#f0453f"/>
<rect x="-8.2" y="-8.2" width="10.6" height="9.9" fill="#2457f5"/>
<rect x="-5.75" y="-6.15" width="1.1" height="1.1" fill="#dfe6f2"/>
<rect x="-2.85" y="-6.15" width="1.1" height="1.1" fill="#dfe6f2"/>
<rect x="-0.05" y="-6.15" width="1.1" height="1.1" fill="#dfe6f2"/>
<rect x="-5.75" y="-3.25" width="1.1" height="1.1" fill="#dfe6f2"/>
<rect x="-2.85" y="-3.25" width="1.1" height="1.1" fill="#dfe6f2"/>
<rect x="-0.05" y="-3.25" width="1.1" height="1.1" fill="#dfe6f2"/>
<rect x="-5.75" y="-0.45" width="1.1" height="1.1" fill="#dfe6f2"/>
<rect x="-2.85" y="-0.45" width="1.1" height="1.1" fill="#dfe6f2"/>
<rect x="-0.05" y="-0.45" width="1.1" height="1.1" fill="#dfe6f2"/>
</g></g>
<g fill="#d1d4dc">
<path d="M10.1 868.2 H18.1 V877.7 H13.7 V871.8 H10.1 Z"/>
<circle cx="20.7" cy="869.9" r="1.6"/>
<path d="M24.6 868.2 H29.5 L25.9 877.7 H21 Z"/>
</g>
<text x="32.6" y="877.8" font-size="13.2" fill="#d1d4dc" stroke="#d1d4dc" stroke-width="0.22" font-weight="normal" text-anchor="start" textLength="71.0" lengthAdjust="spacingAndGlyphs">TradingView</text>
</svg></body></html>
